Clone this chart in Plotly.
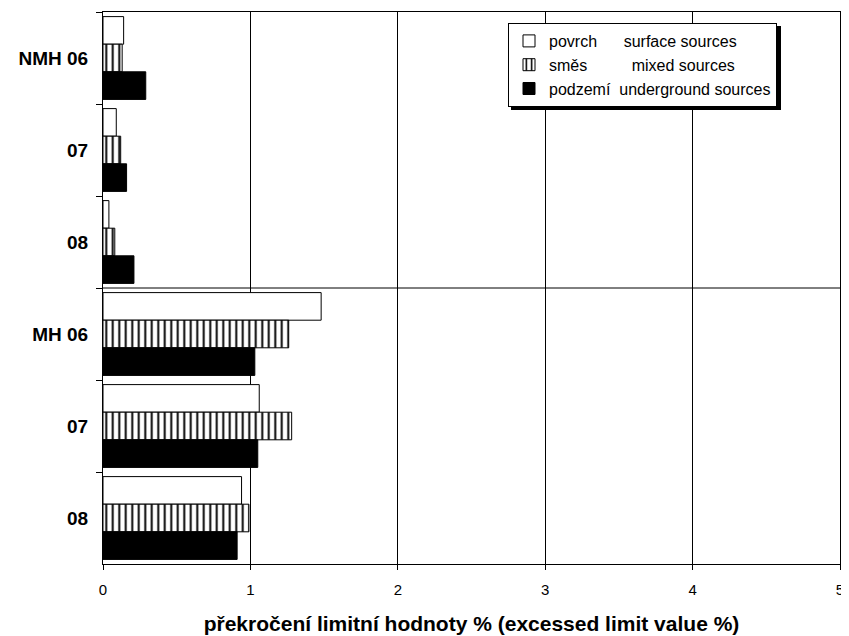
import plotly.graph_objects as go

# Data
categories = ["NMH 06", "07", "08", "MH 06", "07\u200b", "08\u200b"]
surface = [0.14, 0.09, 0.04, 1.48, 1.06, 0.94]
mixed = [0.13, 0.12, 0.08, 1.26, 1.28, 0.99]
underground = [0.29, 0.16, 0.21, 1.03, 1.05, 0.91]
NB = "\u00a0"
names = ["povrch" + NB * 6 + "surface sources",
         "směs" + NB * 10 + "mixed sources",
         "podzemí" + NB * 2 + "underground sources"]
x_ticks = [0, 1, 2, 3, 4, 5]
x_title = "překročení limitní hodnoty % (excessed limit value %)"

# page body has an 8px margin; compensate
OFF = 8
W, H = 849 - OFF, 636 - OFF
ML, MR, MT, MB = 103 - OFF, 9, 12 - OFF, 72
PW, PH = W - ML - MR, H - MT - MB

FONT = "Arial, Liberation Sans, sans-serif"

fig = go.Figure()
fig.add_trace(go.Bar(y=categories, x=surface, orientation="h", name=names[0],
                     marker=dict(color="white", line=dict(color="black", width=1))))
fig.add_trace(go.Bar(y=categories, x=mixed, orientation="h", name=names[1],
                     marker=dict(color="white", line=dict(color="black", width=1),
                                 pattern=dict(shape="|", size=6.5, solidity=0.3,
                                              fgcolor="black", bgcolor="white", fillmode="replace"))))
fig.add_trace(go.Bar(y=categories, x=underground, orientation="h", name=names[2],
                     marker=dict(color="black", line=dict(color="black", width=1))))

# legend position in figure px
lx0, ly0, lw, lh = 508 - OFF, 23 - OFF, 270, 84
def px_to_paper_x(px):
    return (px - ML) / PW
def px_to_paper_y(py):
    return 1 - (py - MT) / PH

shapes = [
    dict(type="line", xref="paper", yref="y", x0=0, x1=1, y0=2.5, y1=2.5,
         line=dict(color="black", width=1)),
    dict(type="rect", xref="paper", yref="paper",
         x0=px_to_paper_x(lx0 + 3), x1=px_to_paper_x(lx0 + lw + 3),
         y0=px_to_paper_y(ly0 + lh + 3), y1=px_to_paper_y(ly0 + 3),
         fillcolor="black", line=dict(width=0), layer="above"),
]

fig.update_layout(
    width=W, height=H,
    margin=dict(l=ML, r=MR, t=MT, b=MB, autoexpand=False),
    paper_bgcolor="white", plot_bgcolor="white",
    barmode="group", bargap=0.1, bargroupgap=0,
    font=dict(family=FONT, color="black"),
    legend=dict(x=px_to_paper_x(lx0), y=px_to_paper_y(ly0), xanchor="left", yanchor="top",
                bgcolor="white", bordercolor="black", borderwidth=1,
                font=dict(size=16), traceorder="normal",
                itemwidth=30, tracegroupgap=0),
    xaxis=dict(range=[0, 5], tickvals=x_ticks, ticktext=[str(v) for v in x_ticks],
               showgrid=True, gridcolor="black", gridwidth=1,
               showline=True, linecolor="black", linewidth=1, mirror=True,
               ticks="outside", ticklen=5, tickcolor="black",
               tickfont=dict(size=15), zeroline=False, automargin=False,
               ticklabelstandoff=7,
               title=dict(text=x_title, font=dict(size=21, family=FONT, weight="bold"), standoff=19)),
    yaxis=dict(type="category", autorange="reversed", automargin=False,
               showgrid=False, showline=True, linecolor="black", linewidth=1, mirror=True,
               ticks="outside", ticklen=6, tickcolor="black", tickson="boundaries",
               tickfont=dict(size=19, weight="bold"), ticklabelstandoff=10),
    shapes=shapes,
)

fig.write_html("out.html")
